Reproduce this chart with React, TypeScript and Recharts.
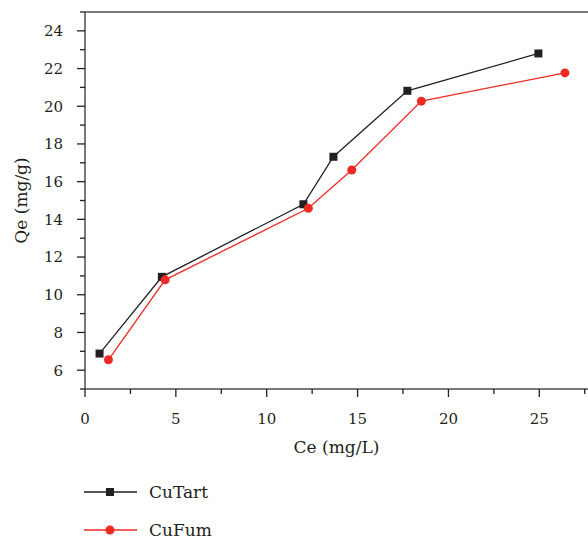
import { LineChart, Line, XAxis, YAxis, ReferenceLine, Legend } from "recharts";

// CuTart (black squares)
const tartCe = [0.8, 4.23, 12.02, 13.67, 17.74, 24.95];
const tartQe = [6.88, 10.95, 14.8, 17.32, 20.82, 22.8];
// CuFum (red circles)
const fumCe = [1.29, 4.41, 12.29, 14.68, 18.51, 26.41];
const fumQe = [6.55, 10.79, 14.59, 16.62, 20.27, 21.77];

const xTicks = [0, 2.5, 5, 7.5, 10, 12.5, 15, 17.5, 20, 22.5, 25, 27.5];
const yTicks = [5, 6, 7, 8, 9, 10, 11, 12, 13, 14, 15, 16, 17, 18, 19, 20, 21, 22, 23, 24, 25];

const tartData = tartCe.map((x, i) => ({ x, y: tartQe[i] }));
const fumData = fumCe.map((x, i) => ({ x, y: fumQe[i] }));

const BLACK = "#231f20";
const RED = "#ee2a24";
const AXIS = "#4d4d4d";
const FONT = "'DejaVu Serif', serif";

const XTick = ({ x, y, payload }: any) => {
  const major = payload.value % 5 === 0;
  return (
    <g>
      <line x1={x} x2={x} y1={y} y2={y + (major ? 8 : 5)} stroke={BLACK} strokeWidth={1.3} />
      {major && (
        <text x={x} y={y + 34.5} textAnchor="middle" fontSize={15} fontFamily={FONT} fill={BLACK}>
          {payload.value}
        </text>
      )}
    </g>
  );
};

const YTick = ({ x, y, payload }: any) => {
  const major = payload.value % 2 === 0;
  return (
    <g>
      <line x1={x - (major ? 8 : 5)} x2={x} y1={y} y2={y} stroke={BLACK} strokeWidth={1.3} />
      {major && (
        <text x={x - 22} y={y + 5.4} textAnchor="end" fontSize={15} fontFamily={FONT} fill={BLACK}>
          {payload.value}
        </text>
      )}
    </g>
  );
};

const SquareDot = ({ cx, cy, index }: any) => (
  <rect key={index} x={cx - 4} y={cy - 4} width={8} height={8} fill={BLACK} />
);

const LegendContent = () => {
  const items = [
    { name: "CuTart", color: BLACK, square: true },
    { name: "CuFum", color: RED, square: false },
  ];
  return (
    <div style={{ fontFamily: FONT, fontSize: 17, color: BLACK }}>
      {items.map((it) => (
        <div key={it.name} style={{ display: "flex", alignItems: "center", height: 38 }}>
          <svg width={53} height={12} style={{ marginRight: 12 }}>
            <line x1={0} x2={53} y1={6} y2={6} stroke={it.color} strokeWidth={1.3} />
            {it.square ? (
              <rect x={22} y={2} width={8} height={8} fill={it.color} />
            ) : (
              <circle cx={26} cy={6} r={4.5} fill={it.color} />
            )}
          </svg>
          <span>{it.name}</span>
        </div>
      ))}
    </div>
  );
};

export default function App() {
  return (
    <div style={{ position: "absolute", left: 0, top: 0, background: "#fff" }}>
      <LineChart width={588} height={539} margin={{ top: 12, right: 0, bottom: 80, left: 0 }}>
        <XAxis
          type="number"
          dataKey="x"
          domain={[0, 27.68]}
          ticks={xTicks}
          interval={0}
          height={70}
          stroke={AXIS}
          strokeWidth={1.5}
          tickSize={0}
          tickMargin={0}
          tickLine={false}
          tick={<XTick />}
          allowDataOverflow
          label={{ value: "Ce (mg/L)", position: "insideBottom", offset: 6, style: { fontFamily: FONT, fontSize: 17, fill: BLACK } }}
        />
        <YAxis
          type="number"
          dataKey="y"
          domain={[5, 25]}
          ticks={yTicks}
          interval={0}
          width={85}
          stroke={AXIS}
          strokeWidth={1.5}
          tickSize={0}
          tickMargin={0}
          tickLine={false}
          tick={<YTick />}
          allowDataOverflow
          label={{ value: "Qe (mg/g)", angle: -90, position: "insideLeft", offset: 21, style: { textAnchor: "middle", fontFamily: FONT, fontSize: 17, fill: BLACK } }}
        />
        <ReferenceLine y={25} stroke={AXIS} strokeWidth={1.5} />
        <Legend
          layout="vertical"
          align="center"
          verticalAlign="middle"
          wrapperStyle={{ left: 84, top: 473, width: 200 }}
          content={<LegendContent />}
        />
        <Line
          data={tartData}
          dataKey="y"
          name="CuTart"
          stroke={BLACK}
          strokeWidth={1.3}
          dot={<SquareDot />}
          activeDot={false}
          isAnimationActive={false}
        />
        <Line
          data={fumData}
          dataKey="y"
          name="CuFum"
          stroke={RED}
          strokeWidth={1.3}
          dot={{ r: 4.5, fill: RED, stroke: RED, strokeWidth: 0 }}
          activeDot={false}
          isAnimationActive={false}
        />
      </LineChart>
    </div>
  );
}
